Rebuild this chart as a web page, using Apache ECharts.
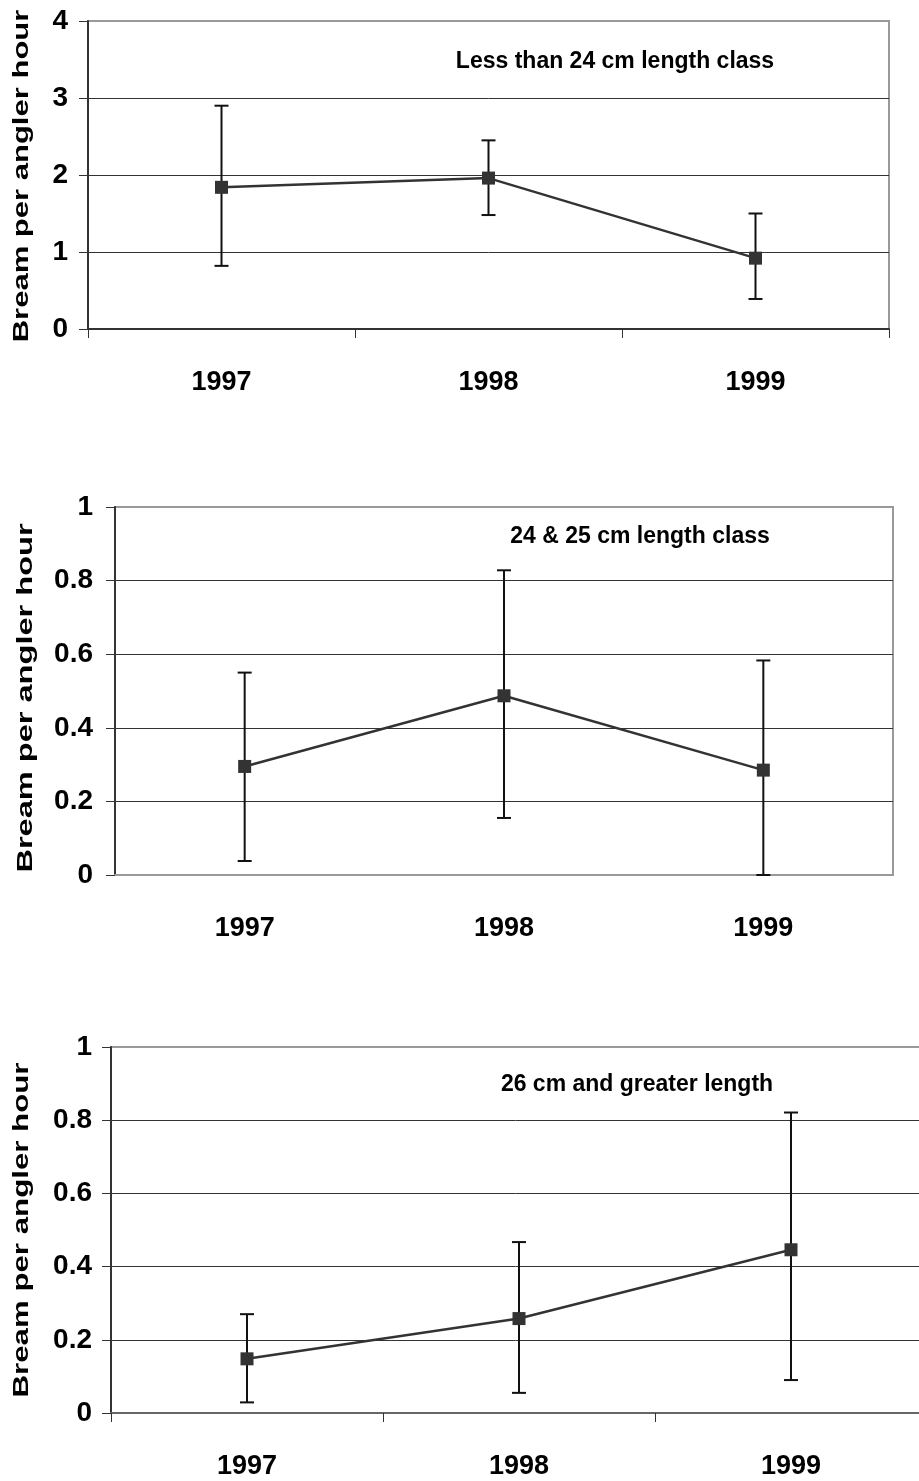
<!DOCTYPE html>
<html>
<head>
<meta charset="utf-8">
<script src="https://cdn.jsdelivr.net/npm/echarts@6/dist/echarts.min.js"></script>
<style>
  html, body { margin: 0; padding: 0; background: #fff; }
  #chart { width: 919px; height: 1481px; }
</style>
</head>
<body>
<div id="chart"></div>
<script>
// Bream catch rate by length class, 1997-1999, with error bars
const years = ['1997', '1998', '1999'];

const smallMean  = [1.84, 1.96, 0.92];
const smallLow   = [0.82, 1.48, 0.39];
const smallHigh  = [2.90, 2.45, 1.50];

const midMean    = [0.295, 0.487, 0.285];
const midLow     = [0.038, 0.155, 0.0];
const midHigh    = [0.55, 0.828, 0.583];

const largeMean  = [0.148, 0.258, 0.446];
const largeLow   = [0.029, 0.055, 0.09];
const largeHigh  = [0.27, 0.467, 0.821];

const panelTitles = ['Less than 24 cm length class', '24 & 25 cm length class', '26 cm and greater length'];
const yTitle = 'Bream per angler hour';

const FONT = '"Liberation Sans", Arial, Helvetica, sans-serif';

const chart = echarts.init(document.getElementById('chart'), null, { renderer: 'canvas' });

// panel layout
const panels = [
  { grid: { left: 88,  top: 21,   right: 30, height: 308 }, yMax: 4, yInterval: 1, labelMargin: 20, xTicks: true,  xLineColor: '#333', mean: smallMean, low: smallLow, high: smallHigh },
  { grid: { left: 115, top: 507,  right: 26, height: 368 }, yMax: 1, yInterval: 0.2, labelMargin: 22, xTicks: false, xLineColor: '#999', mean: midMean, low: midLow, high: midHigh },
  { grid: { left: 111, top: 1047, right: -8, height: 366 }, yMax: 1, yInterval: 0.2, labelMargin: 19, xTicks: true,  xLineColor: '#666', mean: largeMean, low: largeLow, high: largeHigh }
];

const grids = [], xAxes = [], yAxes = [], series = [];

panels.forEach((p, i) => {
  grids.push(Object.assign({
    show: true,
    borderColor: '#999',
    borderWidth: 2,
    backgroundColor: '#fff',
    containLabel: false,
    outerBoundsMode: 'none'
  }, p.grid));

  xAxes.push({
    gridIndex: i,
    type: 'category',
    data: years,
    boundaryGap: true,
    axisLine: { show: true, lineStyle: { color: p.xLineColor, width: 2 } },
    axisTick: { show: p.xTicks, length: 9, inside: false, alignWithLabel: false, lineStyle: { color: '#333', width: 1 } },
    axisLabel: { color: '#000', fontSize: 27, fontWeight: 'bold', fontFamily: FONT, margin: 40 },
    splitLine: { show: false }
  });

  yAxes.push({
    gridIndex: i,
    type: 'value',
    min: 0,
    max: p.yMax,
    interval: p.yInterval,
    axisLine: { show: true, lineStyle: { color: '#333', width: 2 } },
    axisTick: { show: true, length: 9, inside: false, lineStyle: { color: '#333', width: 1 } },
    axisLabel: { color: '#000', fontSize: 28, fontWeight: 'bold', fontFamily: FONT, margin: p.labelMargin },
    splitLine: { show: true, showMinLine: false, showMaxLine: false, lineStyle: { color: '#333', width: 1 } }
  });

  // error bars (low-high with caps)
  series.push({
    type: 'custom',
    xAxisIndex: i,
    yAxisIndex: i,
    data: years.map((y, k) => [k, p.low[k], p.high[k]]),
    encode: { x: 0, y: [1, 2] },
    z: 3,
    renderItem: function (params, api) {
      const x = api.value(0);
      const lo = api.coord([x, api.value(1)]);
      const hi = api.coord([x, api.value(2)]);
      const cap = 7;
      const style = { stroke: '#111', lineWidth: 2 };
      return {
        type: 'group',
        children: [
          { type: 'line', shape: { x1: lo[0], y1: lo[1], x2: hi[0], y2: hi[1] }, style: style },
          { type: 'line', shape: { x1: hi[0] - cap, y1: hi[1], x2: hi[0] + cap, y2: hi[1] }, style: style },
          { type: 'line', shape: { x1: lo[0] - cap, y1: lo[1], x2: lo[0] + cap, y2: lo[1] }, style: style }
        ]
      };
    }
  });

  // mean line with square markers
  series.push({
    type: 'line',
    xAxisIndex: i,
    yAxisIndex: i,
    data: p.mean,
    symbol: 'rect',
    symbolSize: 13,
    showAllSymbol: true,
    z: 4,
    lineStyle: { color: '#333', width: 2.5 },
    itemStyle: { color: '#333', borderWidth: 0 },
    animation: false
  });
});

// panel captions and rotated y-axis titles
const captionPos = [[615, 61], [640, 536], [637, 1084]];
const yTitlePos = [[22, 176, 1.41], [26, 698, 1.48], [22, 1230, 1.42]];
const graphics = [];
panelTitles.forEach((t, i) => {
  graphics.push({
    type: 'text',
    x: captionPos[i][0],
    y: captionPos[i][1],
    scaleY: 1.08,
    z: 10,
    style: { text: t, font: 'bold 23px ' + FONT, fill: '#000', align: 'center', verticalAlign: 'middle' }
  });
  graphics.push({
    type: 'text',
    x: yTitlePos[i][0],
    y: yTitlePos[i][1],
    rotation: Math.PI / 2,
    scaleX: yTitlePos[i][2],
    z: 10,
    style: { text: yTitle, font: 'bold 22px ' + FONT, fill: '#000', align: 'center', verticalAlign: 'middle' }
  });
});

chart.setOption({
  backgroundColor: '#fff',
  animation: false,
  grid: grids,
  xAxis: xAxes,
  yAxis: yAxes,
  series: series,
  graphic: graphics
});
</script>
</body>
</html>
